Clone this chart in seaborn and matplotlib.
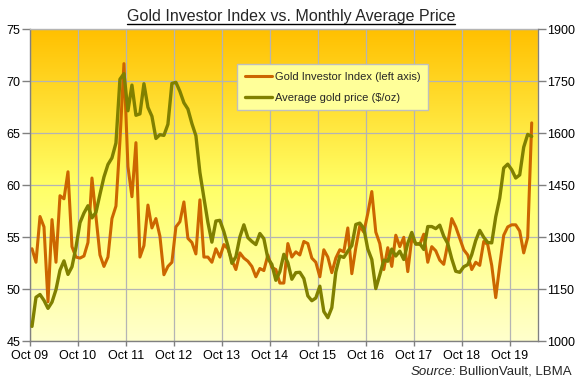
import numpy as np
import pandas as pd
import matplotlib
matplotlib.use("Agg")
import matplotlib.pyplot as plt
from matplotlib.lines import Line2D
import seaborn as sns

# x axis labels, one per October
year_labels = ["Oct 09", "Oct 10", "Oct 11", "Oct 12", "Oct 13", "Oct 14",
               "Oct 15", "Oct 16", "Oct 17", "Oct 18", "Oct 19"]

# Gold Investor Index, monthly from Oct 2009 to Mar 2020 (left axis)
gii = [53.9, 52.6, 57.0,
       56.0, 48.8, 56.7, 52.6, 59.0, 58.7, 61.3, 54.1, 53.1, 53.0, 53.2, 54.5,
       60.7, 57.0, 53.3, 52.2, 53.1, 56.8, 58.0, 64.3, 71.7, 61.8, 58.9, 64.1,
       53.1, 54.2, 58.1, 55.9, 56.8, 55.1, 51.4, 52.2, 52.6, 56.0, 56.5, 58.4,
       54.9, 54.5, 53.4, 58.6, 53.1, 53.1, 52.6, 53.9, 53.1, 54.3, 53.9, 52.8,
       51.9, 53.5, 53.0, 52.7, 52.2, 51.2, 52.0, 51.8, 53.3, 52.1, 51.9, 50.6,
       50.6, 54.4, 53.1, 53.6, 53.3, 54.6, 54.4, 53.0, 52.6, 51.2, 53.8, 53.1,
       51.6, 53.0, 53.8, 53.6, 55.9, 51.5, 54.0, 56.1, 55.5, 57.3, 59.4, 55.5,
       54.4, 51.9, 54.0, 52.2, 55.2, 54.1, 55.0, 51.7, 54.9, 54.4, 54.3, 55.3,
       52.6, 54.1, 53.7, 52.8, 52.4, 54.4, 56.8, 56.0, 54.9, 53.8, 53.3, 51.9,
       52.6, 52.3, 54.6, 54.3, 52.3, 49.2, 52.3, 55.2, 56.0, 56.2, 56.2, 55.6,
       53.5, 55.0, 66.0]

# Average gold price $/oz, same months (right axis)
gold_price = [1043, 1127, 1135,
              1118, 1095, 1113, 1149, 1205, 1232, 1193, 1215, 1271, 1342, 1370, 1391,
              1356, 1372, 1424, 1474, 1510, 1529, 1572, 1756, 1772, 1665, 1739, 1652,
              1656, 1743, 1675, 1649, 1585, 1596, 1594, 1626, 1744, 1747, 1721, 1688,
              1670, 1628, 1593, 1487, 1414, 1343, 1286, 1347, 1349, 1316, 1275, 1225,
              1244, 1301, 1336, 1299, 1288, 1279, 1311, 1296, 1239, 1222, 1176, 1201,
              1251, 1227, 1179, 1198, 1199, 1181, 1131, 1117, 1125, 1159, 1086, 1068,
              1097, 1200, 1246, 1242, 1260, 1276, 1337, 1341, 1326, 1266, 1236, 1152,
              1192, 1234, 1231, 1266, 1246, 1260, 1236, 1283, 1314, 1280, 1282, 1265,
              1331, 1331, 1325, 1335, 1303, 1282, 1238, 1202, 1199, 1215, 1221, 1250,
              1291, 1320, 1300, 1285, 1284, 1359, 1413, 1500, 1511, 1495, 1471, 1480,
              1560, 1597, 1591]

df = pd.DataFrame({"month": np.arange(len(gii)) + 0.5, "gii": gii, "gold": gold_price})

sns.set_style("white")
plt.rcParams["font.family"] = ["Liberation Sans", "DejaVu Sans"]

W, H = 578, 381
fig = plt.figure(figsize=(W / 100, H / 100), dpi=100)
ax1 = fig.add_axes([30 / W, 1 - 341.3 / H, 507.7 / W, 312 / H])
ax2 = ax1.twinx()

# gradient background: gold at top, pale yellow at bottom
t = np.linspace(0, 1, 256)
stops_t = [0.0, 0.5, 1.0]
stops_c = np.array([[255, 192, 0], [255, 255, 102], [255, 255, 204]]) / 255.0
grad = np.stack([np.interp(t, stops_t, stops_c[:, k]) for k in range(3)], axis=-1)
ax1.imshow(grad[:, None, :], extent=[0, 127, 45, 75], aspect="auto",
           origin="upper", zorder=-1)

sns.lineplot(data=df, x="month", y="gii", ax=ax1, color="#CC6600",
             linewidth=2.2, label="Gold Investor Index (left axis)", legend=False)
sns.lineplot(data=df, x="month", y="gold", ax=ax2, color="#808000",
             linewidth=2.4, label="Average gold price ($/oz)", legend=False)

ax1.set_xlim(0, 127)
ax1.set_ylim(45, 75)
ax2.set_ylim(1000, 1900)
ax1.set_xticks(np.arange(0, 121, 12))
ax1.set_xticklabels(year_labels)
ax1.set_yticks(np.arange(45, 76, 5))
ax2.set_yticks(np.arange(1000, 1901, 150))
for a in (ax1, ax2):
    a.set_xlabel("")
    a.set_ylabel("")

ax1.grid(True, color="#B4B4B4", linewidth=0.9)
ax2.grid(False)

ax1.tick_params(axis="y", direction="out", length=5.5, width=1, color="#808080",
                labelsize=9, pad=1.5, labelcolor="black", left=True)
ax1.tick_params(axis="x", direction="out", length=3.6, width=1, color="#808080",
                labelsize=9, pad=3, labelcolor="black", bottom=True)
ax2.tick_params(axis="y", direction="out", length=5.5, width=1, color="#808080",
                labelsize=9, pad=1.5, labelcolor="black", right=True)

for name, sp in ax1.spines.items():
    sp.set_color("#808080" if name in ("left", "bottom") else "#B4B4B4")
    sp.set_linewidth(1)
for name, sp in ax2.spines.items():
    sp.set_visible(name == "right")
    sp.set_color("#808080")

h1, l1 = ax1.get_legend_handles_labels()
h2, l2 = ax2.get_legend_handles_labels()
leg = ax2.legend(h1 + h2, l1 + l2, loc="upper left", bbox_to_anchor=(0.408, 0.888),
                 frameon=True, fancybox=False, facecolor="#FFFF99",
                 edgecolor="#BFBFBF", framealpha=1, fontsize=8, borderpad=0.7,
                 labelspacing=0.95, handlelength=2.4, handletextpad=0.3,
                 borderaxespad=0)
leg.get_frame().set_linewidth(1)

title = fig.text(291 / W, 1 - 21 / H, "Gold Investor Index vs. Monthly Average Price",
                 ha="center", va="baseline", fontsize=11.5)

src = fig.text(571.7 / W, 1 - 375 / H, "BullionVault, LBMA", ha="right",
               va="baseline", fontsize=9.5)

fig.canvas.draw()
r = fig.canvas.get_renderer()
tb = title.get_window_extent(r)
fig.add_artist(Line2D([tb.x0 / W, tb.x1 / W], [1 - 24 / H, 1 - 24 / H],
                      color="black", linewidth=1, transform=fig.transFigure))
sb = src.get_window_extent(r)
fig.text((sb.x0 - 3) / W, 1 - 375 / H, "Source:", ha="right", va="baseline",
         fontsize=9.5, style="italic")

fig.savefig("out.png", dpi=100)
